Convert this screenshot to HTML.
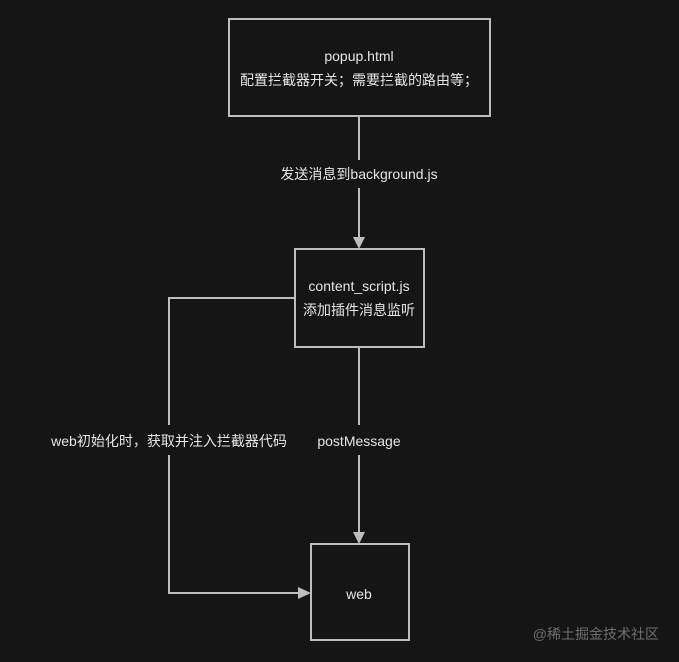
<!DOCTYPE html>
<html><head><meta charset="utf-8"><style>
html,body{margin:0;padding:0;background:#151515;width:679px;height:662px;overflow:hidden}
svg text{font-family:"Liberation Sans","Noto Sans CJK SC",sans-serif;fill:#e6e6e6;font-size:14px}
</style></head><body>
<svg width="679" height="662" viewBox="0 0 679 662">
<rect width="679" height="662" fill="#151515"/>
<g fill="none" stroke="#bdbdbd" stroke-width="2">
<rect x="229" y="19" width="261" height="97"/>
<rect x="295" y="249" width="129" height="98"/>
<rect x="311" y="544" width="98" height="96"/>
<line x1="359" y1="116" x2="359" y2="160"/>
<line x1="359" y1="188" x2="359" y2="240"/>
<line x1="359" y1="347" x2="359" y2="425"/>
<line x1="359" y1="455" x2="359" y2="535"/>
<polyline points="295,298 169,298 169,425"/>
<polyline points="169,455 169,593 301,593"/>
</g>
<g fill="#bdbdbd">
<polygon points="353,237 365,237 359,249"/>
<polygon points="353,532 365,532 359,544"/>
<polygon points="298,587 298,599 311,593"/>
</g>
<text x="359" y="61" text-anchor="middle">popup.html</text>
<text x="359" y="85" text-anchor="middle">配置拦截器开关；需要拦截的路由等；</text>
<text x="359" y="179" text-anchor="middle">发送消息到background.js</text>
<text x="359" y="291" text-anchor="middle">content_script.js</text>
<text x="359" y="315" text-anchor="middle">添加插件消息监听</text>
<text x="359" y="446" text-anchor="middle">postMessage</text>
<text x="169" y="446" text-anchor="middle">web初始化时，获取并注入拦截器代码</text>
<text x="359" y="599" text-anchor="middle">web</text>
<text x="659" y="639" text-anchor="end" style="fill:#6e6e6e;font-size:14px">@稀土掘金技术社区</text>
</svg>
</body></html>
